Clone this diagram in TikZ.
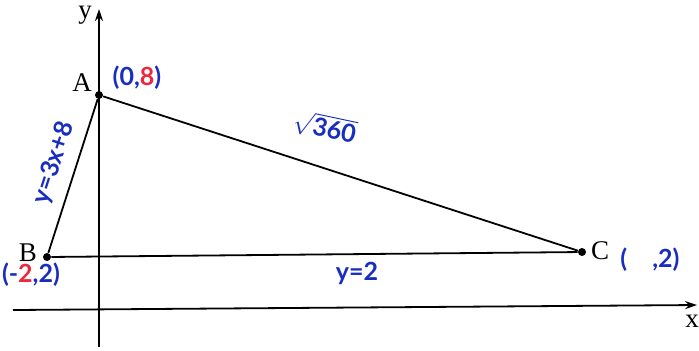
\documentclass[tikz,border=0pt]{standalone}
\usepackage{fontspec}
\setmainfont{Liberation Serif}
\newfontfamily\handfont{Lato}
\usetikzlibrary{arrows.meta}
\definecolor{pen}{RGB}{25,45,190}
\definecolor{redpen}{RGB}{235,40,60}
\tikzset{
  lbl/.style={font=\fontsize{13.5}{15}\selectfont, inner sep=0pt},
  hand/.style={font=\handfont\bfseries\fontsize{12.5}{14}\selectfont, text=pen, inner sep=0pt},
  pt/.style={circle, fill, inner sep=0pt, minimum size=4pt},
  axis/.style={line width=0.9pt, -{Stealth[length=6pt,width=4pt]}},
  side/.style={line width=0.9pt}
}
\begin{document}
\begin{tikzpicture}[x=0.5pt,y=-0.5pt]
  \useasboundingbox (0,0) rectangle (699,350);
  \coordinate (xl) at (13,310);
  \coordinate (xr) at (697,305);
  \coordinate (yb) at (99,347);
  \coordinate (yt) at (99,9);
  \draw[axis] (xl) -- (xr);
  \draw[axis] (yb) -- (yt);
  \node[pt] (A) at (99,95) {};
  \node[pt] (B) at (47,257) {};
  \node[pt] (C) at (582,252) {};
  \draw[side] (A) -- (B) -- (C) -- (A);
  \node[lbl] (ylab) at (85,15) {y};
  \node[lbl] (xlab) at (692,321) {x};
  \node[lbl] (Alab) at (82,83) {A};
  \node[lbl] (Blab) at (28,253) {B};
  \node[lbl] (Clab) at (600,251) {C};
  \node[hand] (Apos) at (137,78) {(0,\textcolor{redpen}{8})};
  \node[hand] (Bpos) at (31,275) {(-\textcolor{redpen}{2},2)};
  \node[hand] (Cpos) at (650,260) {(\quad,2)};
  \node[hand, rotate=72] (ABeq) at (54,163) {y=3x+8};
  \node[hand] (BCeq) at (357,273) {y=2};
  \node[hand, rotate=-12] (AClen) at (325,127) {$\sqrt{\hbox{360}}$};
\end{tikzpicture}
\end{document}
